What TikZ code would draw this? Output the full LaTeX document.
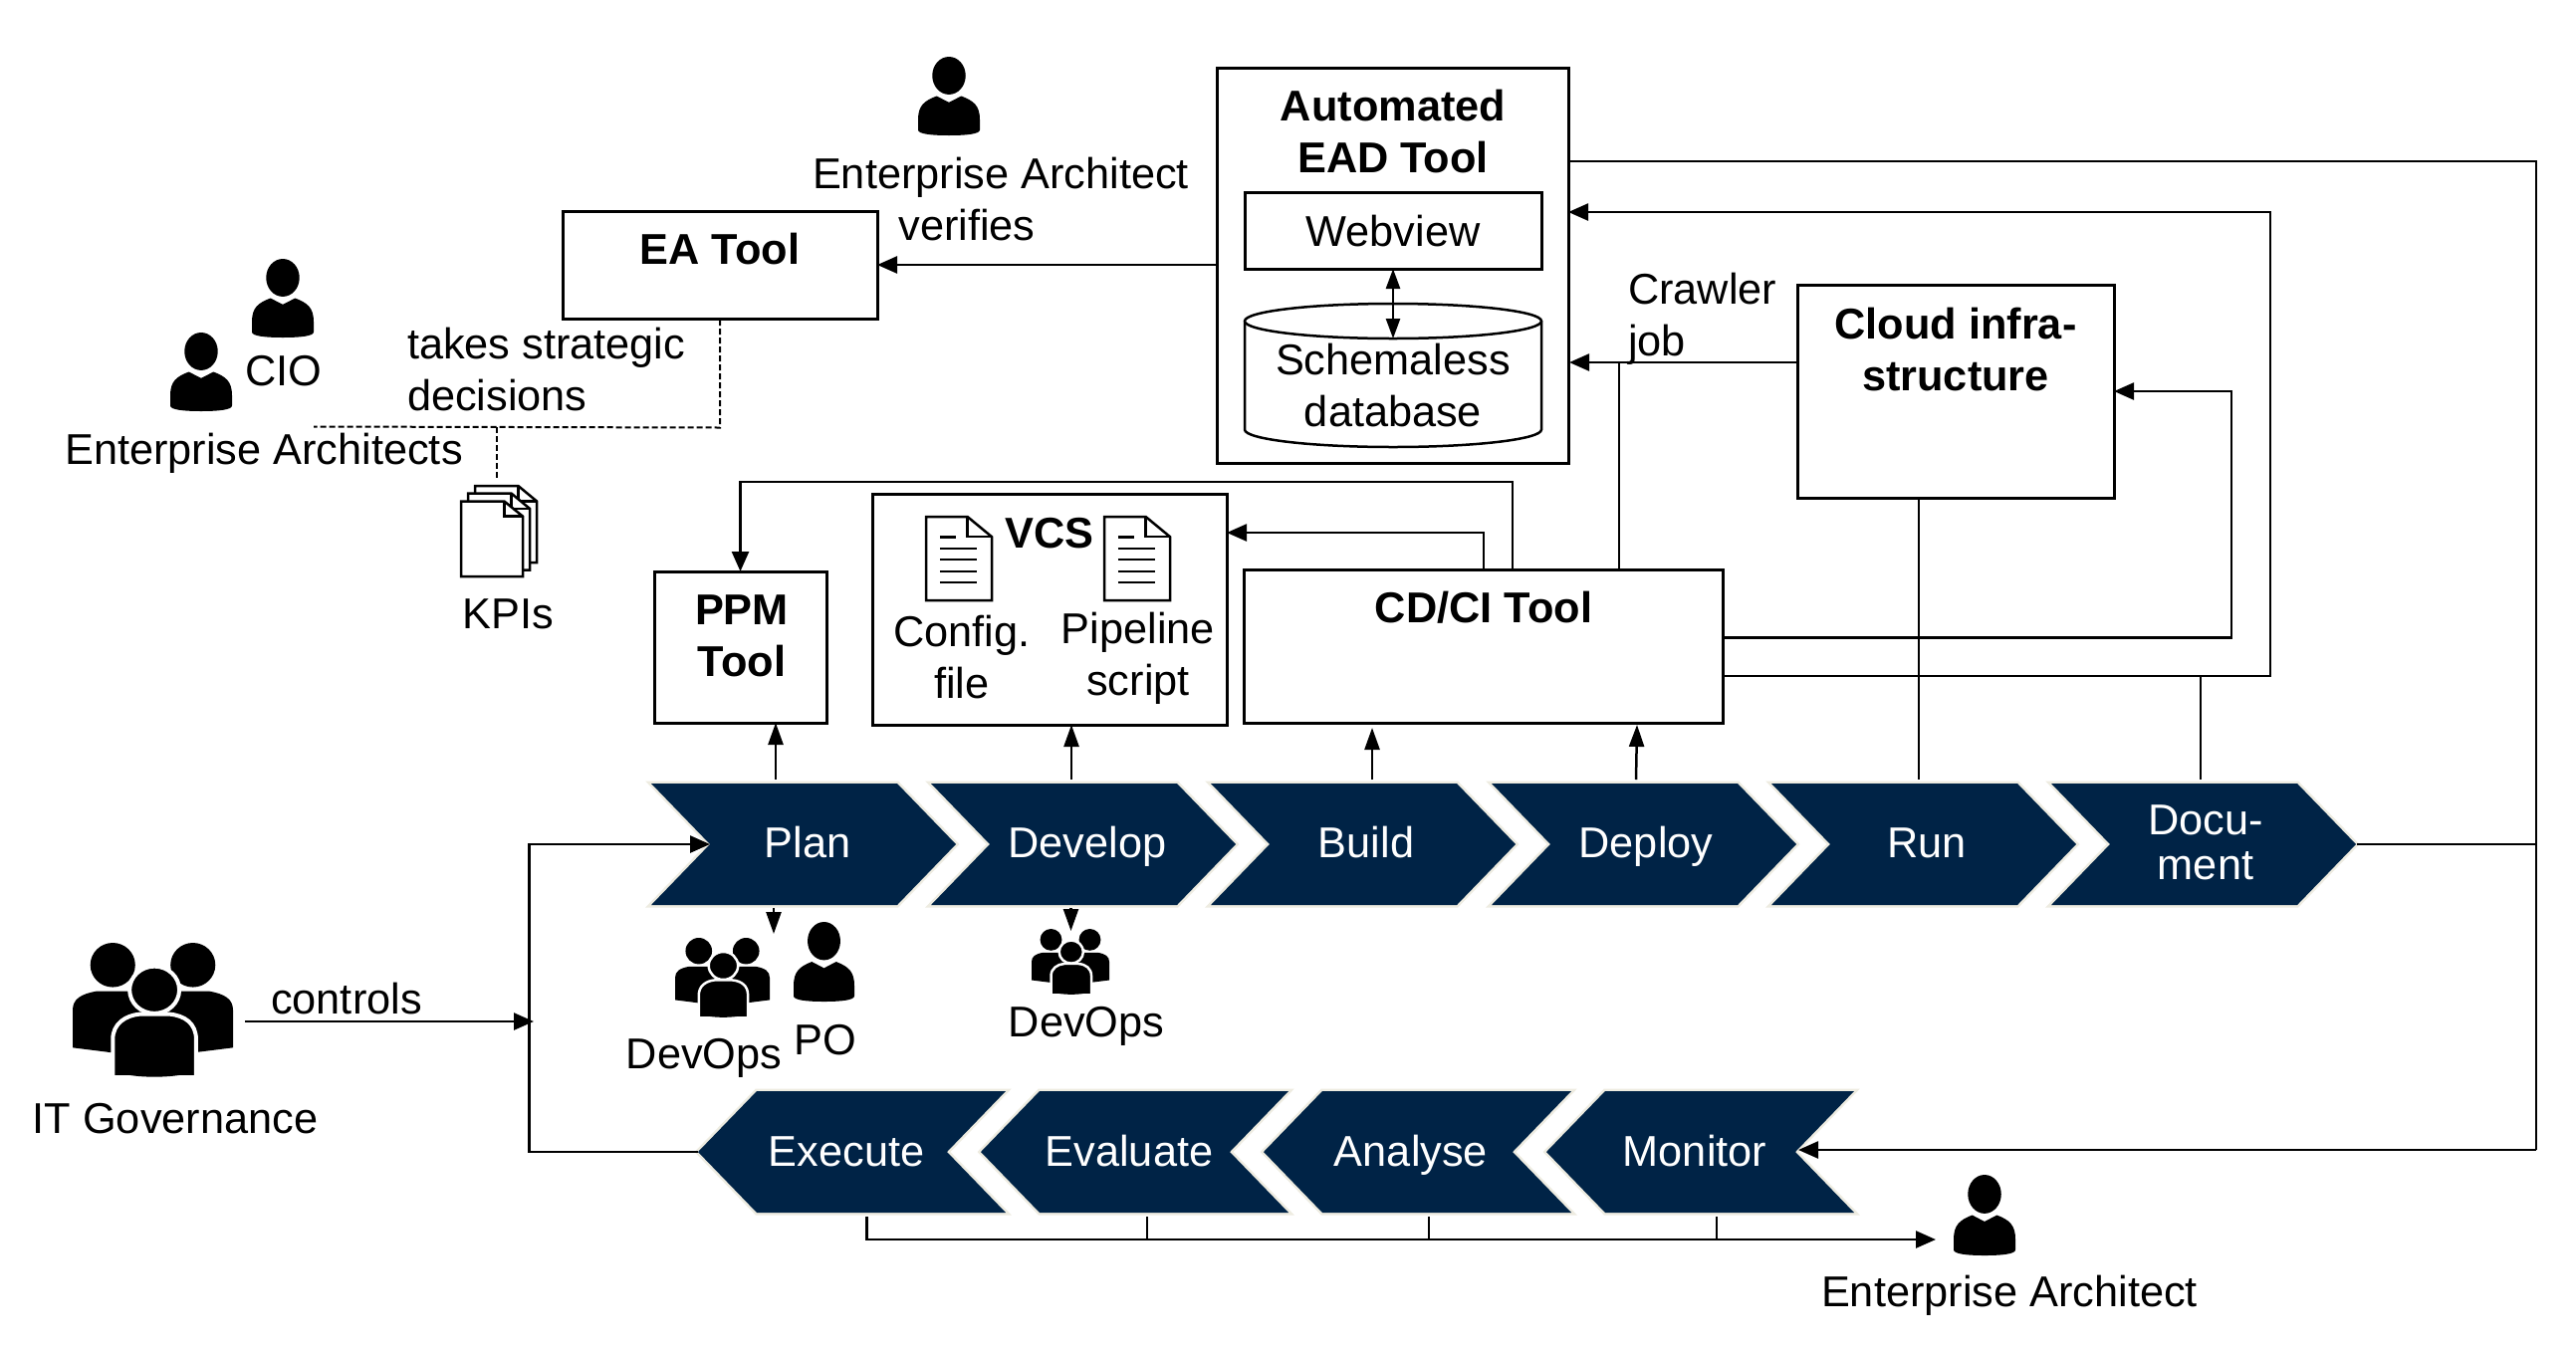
\documentclass[tikz,border=0pt]{standalone}
\usepackage{fontspec}
\setmainfont{Liberation Sans}
\usetikzlibrary{arrows.meta}
\definecolor{navy}{HTML}{002346}
\definecolor{cream}{HTML}{EEECE1}
\tikzset{
  box/.style={draw=black,line width=3pt,fill=white,inner sep=0pt,outer sep=0pt,anchor=north west},
  txt/.style={inner sep=0pt,outer sep=0pt,align=center,text height=33pt,text depth=6pt,font=\fontsize{43.3}{52}\selectfont},
  btxt/.style={txt,font=\fontsize{43.3}{52}\selectfont\bfseries},
  wtxt/.style={txt,text=white},
  mtxt/.style={txt,text height=,text depth=},
  mbtxt/.style={btxt,text height=,text depth=},
  wmtxt/.style={mtxt,text=white},
  conn/.style={draw=black,line width=2.5pt},
  arr/.style={conn,-{Triangle[length=20pt,width=17pt]}},
  smallarr/.style={conn,-{Triangle[length=22pt,width=15pt]}},
  dbl/.style={conn,{Triangle[length=20pt,width=14pt]}-{Triangle[length=20pt,width=14pt]}},
  dash line/.style={draw=black,line width=2pt,dash pattern=on 6pt off 3pt},
  chev/.style={fill=navy,preaction={draw=cream,line width=5pt,miter limit=10}},
  person/.pic={
    \fill[black] (.5,.24) ellipse [x radius=.27,y radius=.24];
    \fill[black] (.3,.5) -- (.5,.58) -- (.7,.5) .. controls (.9,.56) and (1,.62) .. (1,.8) -- (1,.93)
      .. controls (1,.98) and (.8,1) .. (.5,1) .. controls (.2,1) and (0,.98) .. (0,.93) -- (0,.8)
      .. controls (0,.62) and (.1,.56) .. (.3,.5) -- cycle;
  },
  groupicon/.pic={
    \fill[black] (.25,.165) ellipse [x radius=.14,y radius=.165];
    \fill[black] (.75,.165) ellipse [x radius=.14,y radius=.165];
    \fill[black] (.15,.36) -- (.35,.36) -- (.5,.5) -- (.4,.84) -- (0,.78) -- (0,.5) .. controls (0,.42) and (.05,.38) .. (.15,.36) -- cycle;
    \fill[black] (.85,.36) -- (.65,.36) -- (.5,.5) -- (.6,.84) -- (1,.78) -- (1,.5) .. controls (1,.42) and (.95,.38) .. (.85,.36) -- cycle;
    \filldraw[fill=black,draw=white] (.51,.35) ellipse [x radius=.155,y radius=.175];
    \filldraw[fill=black,draw=white] (.25,1.03) -- (.25,.72) .. controls (.25,.6) and (.33,.54) .. (.42,.53) -- (.6,.53)
      .. controls (.7,.54) and (.77,.6) .. (.77,.72) -- (.77,1.03) -- cycle;
    \fill[white] (.2,.985) rectangle (.82,1.06);
    \fill[black] (.27,.96) .. controls (.38,1.01) and (.64,1.01) .. (.75,.96) -- cycle;
  },
  docicon/.pic={
    \draw[draw=black,line width=2.5pt,fill=white] (0,0) -- (.63,0) -- (1,.24) -- (1,1) -- (0,1) -- cycle;
    \draw[draw=black,line width=2.5pt] (.63,0) -- (.63,.24) -- (1,.24);
    \draw[draw=black,line width=2.5pt] (.21,.245) -- (.45,.245);
    \foreach \ly in {.378,.51,.654,.787} \draw[draw=black,line width=2.5pt] (.21,\ly) -- (.77,\ly);
  },
  sheet/.pic={
    \draw[draw=black,line width=2.5pt,fill=white] (0,0) -- (.7,0) -- (1,.2) -- (1,1) -- (0,1) -- cycle;
    \draw[draw=black,line width=2.5pt] (.7,0) -- (.7,.2) -- (1,.2);
  },
}
% name, left x, label x, label
\newcommand\chevR[2]{%
  \path[chev] (#2,787) -- ++(247,0) -- ++(59,61) coordinate (#1tip) -- ++(-59,61) -- ++(-247,0) -- ++(59,-61) coordinate (#1notch) -- cycle;}
\newcommand\chevL[4]{%
  \path[chev] (#2,1096) -- ++(250,0) -- ++(-59,61) coordinate (#1notch) -- ++(59,61) -- ++(-250,0) -- ++(-59,-61) coordinate (#1tip) -- cycle;
  \node[wtxt] (#1) at (#3,1158) {#4};}
\begin{document}
\begin{tikzpicture}[x=1pt,y=-1pt]
\useasboundingbox (0,0) rectangle (2587,1355);
\fill[white] (0,0) rectangle (2587,1355);

% boxes
\node[box,minimum width=316pt,minimum height=108pt] (ea) at (565,212) {};
\node[btxt] (ealbl) at (723,252) {EA Tool};
\node[box,minimum width=353pt,minimum height=397pt] (ead) at (1222,68) {};
\node[mbtxt] (eadlbl) at (1399,132) {Automated\\EAD Tool};
\node[box,minimum width=298pt,minimum height=77pt] (web) at (1250,193) {};
\node[txt] (weblbl) at (1399,234) {Webview};
\filldraw[draw=black,line width=2.5pt,fill=white] (1250,322.5) -- (1250,431.5) arc[start angle=180,end angle=360,x radius=149pt,y radius=17.5pt] -- (1548,322.5);
\filldraw[draw=black,line width=2.5pt,fill=white] (1399,322.5) ellipse [x radius=149pt,y radius=17.5pt];
\coordinate (dbtop) at (1399,340);
\node[mtxt] (dblbl) at (1399,387) {Schemaless\\database};
\node[box,minimum width=318pt,minimum height=214pt] (cloud) at (1805,286) {};
\node[mbtxt] (cloudlbl) at (1964,351) {Cloud infra-\\structure};
\node[box,minimum width=481pt,minimum height=154pt] (cdci) at (1249.5,572) {};
\node[btxt] (cdcilbl) at (1490,612) {CD/CI Tool};
\node[box,minimum width=356pt,minimum height=232pt] (vcs) at (876,496) {};
\node[btxt] (vcslbl) at (1054,537) {VCS};
\node[box,minimum width=173pt,minimum height=152pt] (ppm) at (657,574) {};
\node[mbtxt] (ppmlbl) at (745,639) {PPM\\Tool};
\pic[xscale=66,yscale=84] at (930,519) {docicon};
\pic[xscale=66,yscale=84] at (1109,519) {docicon};
\node[mtxt] (cfg) at (966,660) {Config.\\file};
\node[mtxt] (pip) at (1143,661) {Pipeline\\script};

% chevrons
\chevR{plan}{654}
\node[wtxt] (plan) at (811,848) {Plan};
\chevR{develop}{935}
\node[wtxt] (develop) at (1092,848) {Develop};
\chevR{build}{1216}
\node[wtxt] (build) at (1372,848) {Build};
\chevR{deploy}{1498}
\node[wtxt] (deploy) at (1653,848) {Deploy};
\chevR{run}{1779}
\node[wtxt] (run) at (1935,848) {Run};
\chevR{doc}{2060}
\node[wmtxt] (doc) at (2215,846) {Docu-\\[-7pt]ment};
\chevL{execute}{760}{850}{Execute}
\chevL{evaluate}{1044}{1134}{Evaluate}
\chevL{analyse}{1328}{1417}{Analyse}
\chevL{monitor}{1612}{1702}{Monitor}

% connectors
\coordinate (eadout) at (1575,162);
\coordinate (farright) at (2547,162);
\coordinate (doctip) at (2367,848);
\coordinate (monin) at (1806,1155);
\draw[conn] (eadout) -- (farright) -- (farright |- monin);
\draw[conn] (doctip) -- (farright |- doctip);
\draw[arr] (farright |- monin) -- (monin);

\coordinate (eadin) at (1575,213);
\coordinate (backbus) at (2280,679);
\draw[arr] (cdci.east |- backbus) -- (backbus) -- (backbus |- eadin) -- (eadin);
\coordinate (docup) at (2210,783);
\draw[conn] (docup) -- (docup |- backbus);
\coordinate (runup) at (1927,783);
\draw[conn] (cloud.south -| runup) -- (runup);

\coordinate (cr) at (1576,364);
\draw[arr] (cloud.west |- cr) -- (cr);
\coordinate (crv) at (1626,364);
\draw[conn] (crv) -- (crv |- cdci.north);

\coordinate (cloudin) at (2123,393);
\coordinate (cloudbus) at (2241,640.5);
\draw[arr] (cdci.east |- cloudbus) -- (cloudbus) -- (cloudbus |- cloudin) -- (cloudin);

\coordinate (vcsin) at (1232,535);
\coordinate (cdvcs) at (1490,572);
\draw[arr] (cdvcs) -- (cdvcs |- vcsin) -- (vcsin);
\coordinate (cdppm) at (1519,572);
\coordinate (ppmbus) at (1519,484);
\draw[arr] (cdppm) -- (ppmbus) -- (ppm.north |- ppmbus) -- (ppm.north);

\coordinate (eaarr) at (1222,266);
\draw[arr] (eaarr) -- (ea.east |- eaarr);
\draw[dbl] (web.south) -- (dbtop);

\coordinate (planup) at (779,783);
\coordinate (devup) at (1076,783);
\coordinate (buildup) at (1378,783);
\coordinate (deployup) at (1643,783);
\draw[smallarr] (planup) -- (planup |- ppm.south);
\draw[smallarr] (devup) -- (devup |- vcs.south);
\draw[smallarr] (buildup) -- (1378,731);
\draw[smallarr] (deployup) -- (1644,728);

\coordinate (plandn) at (777,912);
\coordinate (devdn) at (1075.5,912);
\draw[smallarr] (plandn) -- (777,938);
\draw[smallarr] (devdn) -- (1075.5,935);

\coordinate (leftbus) at (531.5,848);
\draw[arr] (executetip) -- (leftbus |- executetip) -- (leftbus) -- (plannotch);
\coordinate (govout) at (246,1026);
\draw[arr] (govout) -- (536,1026);
\node[txt] (controls) at (348,1005) {controls};

\coordinate (brk) at (1944,1245);
\coordinate (t1) at (870.5,1222);
\coordinate (t2) at (1152,1222);
\coordinate (t3) at (1435,1222);
\coordinate (t4) at (1724,1222);
\draw[arr] (t1) -- (t1 |- brk) -- (brk);
\draw[conn] (t2) -- (t2 |- brk);
\draw[conn] (t3) -- (t3 |- brk);
\draw[conn] (t4) -- (t4 |- brk);

% dashed
\coordinate (dashc) at (723,429.5);
\coordinate (dashl) at (315,428.5);
\coordinate (dashb) at (499,429);
\coordinate (dashe) at (499,481);
\draw[dash line] (ea.south |- 0,321) -- (dashc) -- (dashl);
\draw[dash line] (dashb) -- (dashe);

% icons and free labels
\pic[xscale=62,yscale=79] at (922,57) {person};
\node[txt] (ea1) at (1005,176) {Enterprise Architect};
\node[txt] (verifies) at (971,228) {verifies};
\pic[xscale=62,yscale=79] at (253,260) {person};
\node[txt] (cio) at (285,373.5) {CIO};
\pic[xscale=62,yscale=79] at (171,334) {person};
\node[txt] (eas) at (265,453) {Enterprise Architects};
\node[mtxt,anchor=west,align=left] (takes) at (409,371.5) {takes strategic\\decisions};
\pic[xscale=62,yscale=77] at (477,488) {sheet};
\pic[xscale=62,yscale=77] at (470,495.5) {sheet};
\pic[xscale=62,yscale=75.5] at (463,503.5) {sheet};
\node[txt] (kpis) at (510,618) {KPIs};
\node[mtxt,anchor=west,align=left] (crawl) at (1635,320.5) {Crawler\\job};

\pic[xscale=161,yscale=135,line width=4pt] at (73,947) {groupicon};
\node[txt] (gov) at (176,1125) {IT Governance};
\pic[xscale=95,yscale=80,line width=2.5pt] at (678,942) {groupicon};
\pic[xscale=61,yscale=80] at (797,926) {person};
\node[txt] (devops1) at (707,1060) {DevOps};
\node[txt] (po) at (829,1046) {PO};
\pic[xscale=78,yscale=66,line width=2.5pt] at (1036,933) {groupicon};
\node[txt] (devops2) at (1091,1028) {DevOps};
\pic[xscale=62,yscale=81] at (1962,1180) {person};
\node[txt] (ea3) at (2018,1299) {Enterprise Architect};
\end{tikzpicture}
\end{document}
